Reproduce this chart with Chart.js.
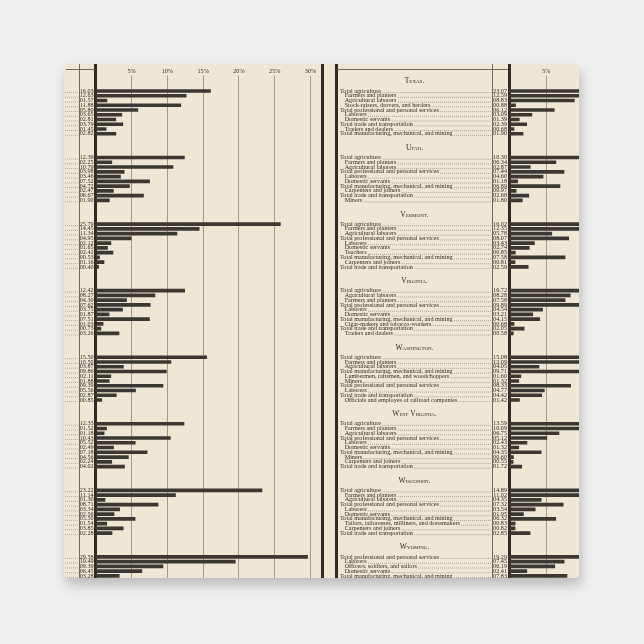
<!DOCTYPE html>
<html>
<head>
<meta charset="utf-8">
<script src="https://cdn.jsdelivr.net/npm/chart.js@4.4.0/dist/chart.umd.min.js"></script>
<style>
  html, body { margin: 0; padding: 0; background: #efefef; }
  body { width: 644px; height: 644px; position: relative; overflow: hidden; }
  #page {
    position: absolute; left: 64px; top: 64px; width: 515px; height: 514px;
    background: #efe7d5; border-radius: 4px; overflow: hidden;
    box-shadow: 2px 7px 12px rgba(0,0,0,0.22);
  }
  .rule { position: absolute; background: #2f2b26; }
  .thin { background: #6f685d; }
  canvas { position: absolute; top: 0; }
</style>
</head>
<body>
<div id="page">
  <div class="rule thin" style="left:15px;top:0;width:1px;height:514px"></div>
  <div class="rule" style="left:30px;top:0;width:3px;height:514px"></div>
  <div class="rule" style="left:257px;top:0;width:3px;height:514px"></div>
  <div class="rule" style="left:271px;top:0;width:2.5px;height:514px"></div>
  <div class="rule thin" style="left:428px;top:0;width:1px;height:514px"></div>
  <div class="rule" style="left:443.5px;top:0;width:3px;height:514px"></div>
  <div class="rule thin" style="left:2px;top:5px;width:29px;height:1px"></div>
  <div class="rule thin" style="left:273px;top:5px;width:171px;height:1px"></div>
  <canvas id="leftChart" width="262" height="520" style="left:0"></canvas>
  <canvas id="rightChart" width="260" height="520" style="left:276px"></canvas>
</div>
<script>
// tick labels of the two percentage scales
const leftTickLabels = ['5%', '10%', '15%', '20%', '25%', '30%'];
const rightTickLabels = ['5%'];

// bars continued from the facing page (values only, names are on that page)
const prevPage1 = [16.03, 12.63, 1.57, 11.88, 5.89, 3.65, 2.81, 3.79, 1.45, 2.82];
const prevPage2 = [12.39, 2.25, 10.79, 3.98, 3.46, 7.52, 4.72, 2.47, 6.67, 1.90];
const prevPage3 = [25.79, 14.45, 11.34, 4.95, 2.12, 1.65, 2.42, 0.53, 1.16, 0.40];
const prevPage4 = [12.42, 8.27, 4.30, 7.62, 3.75, 1.87, 7.51, 1.03, 0.73, 3.26];
const prevPage5 = [15.50, 10.50, 3.87, 9.86, 2.11, 1.88, 9.39, 5.56, 2.87, 0.85];
const prevPage6 = [12.33, 1.52, 1.18, 10.43, 5.52, 2.49, 7.18, 4.56, 2.24, 4.02];
const prevPage7 = [23.22, 11.14, 1.30, 8.71, 3.34, 2.56, 5.50, 1.54, 3.85, 2.28];
const prevPage8 = [29.58, 19.49, 9.39, 6.45, 3.28];

const stateNames = ['Texas.', 'Utah.', 'Vermont.', 'Virginia.', 'Washington.', 'West Virginia.', 'Wisconsin.', 'Wyoming.'];

const texasLabels = ['Total agriculture', 'Farmers and planters', 'Agricultural laborers', 'Stock-raisers, drovers, and herders',
  'Total professional and personal services', 'Laborers', 'Domestic servants', 'Total trade and transportation',
  'Traders and dealers', 'Total manufacturing, mechanical, and mining'];
const texasValues = [23.07, 12.59, 8.83, 0.88, 6.12, 3.09, 1.39, 2.39, 0.68, 1.90];

const utahLabels = ['Total agriculture', 'Farmers and planters', 'Agricultural laborers', 'Total professional and personal services',
  'Laborers', 'Domestic servants', 'Total manufacturing, mechanical, and mining', 'Carpenters and joiners',
  'Total trade and transportation', 'Miners'];
const utahValues = [10.30, 6.34, 2.87, 7.44, 4.60, 1.18, 6.89, 0.97, 2.68, 1.80];

const vermontLabels = ['Total agriculture', 'Farmers and planters', 'Agricultural laborers', 'Total professional and personal services',
  'Laborers', 'Domestic servants', 'Teachers', 'Total manufacturing, mechanical, and mining', 'Carpenters and joiners',
  'Total trade and transportation'];
const vermontValues = [16.02, 12.35, 5.78, 8.07, 3.43, 2.74, 0.85, 7.58, 0.81, 2.59];

const virginiaLabels = ['Total agriculture', 'Agricultural laborers', 'Farmers and planters', 'Total professional and personal services',
  'Laborers', 'Domestic servants', 'Total manufacturing, mechanical, and mining', 'Cigar-makers and tobacco-workers',
  'Total trade and transportation', 'Traders and dealers'];
const virginiaValues = [16.72, 8.28, 7.58, 9.89, 4.54, 3.21, 4.15, 0.68, 2.05, 0.58];

const washingtonLabels = ['Total agriculture', 'Farmers and planters', 'Agricultural laborers', 'Total manufacturing, mechanical, and mining',
  'Lumbermen, raftsmen, and woodchoppers', 'Miners', 'Total professional and personal services', 'Laborers',
  'Total trade and transportation', 'Officials and employes of railroad companies'];
const washingtonValues = [15.08, 12.09, 4.05, 9.71, 1.60, 1.32, 8.33, 4.77, 4.42, 1.42];

const westVirginiaLabels = ['Total agriculture', 'Farmers and planters', 'Agricultural laborers', 'Total professional and personal services',
  'Laborers', 'Domestic servants', 'Total manufacturing, mechanical, and mining', 'Miners', 'Carpenters and joiners',
  'Total trade and transportation'];
const westVirginiaValues = [13.59, 10.69, 6.75, 5.12, 2.43, 1.32, 4.35, 0.60, 0.55, 1.72];

const wisconsinLabels = ['Total agriculture', 'Farmers and planters', 'Agricultural laborers', 'Total professional and personal services',
  'Laborers', 'Domestic servants', 'Total manufacturing, mechanical, and mining',
  'Tailors, tailoresses, milliners, and dressmakers', 'Carpenters and joiners', 'Total trade and transportation'];
const wisconsinValues = [14.89, 11.02, 4.35, 7.32, 3.54, 1.95, 6.32, 0.83, 0.82, 2.85];

const wyomingLabels = ['Total professional and personal services', 'Laborers', 'Officers, soldiers, and sailors',
  'Domestic servants', 'Total manufacturing, mechanical, and mining'];
const wyomingValues = [19.29, 7.45, 6.19, 2.41, 7.83];

// ---- layout / style
const INK = '#2f2b26';
const BAR = '#3b3732';
const GRID = '#8f8779';
const SERIF = "'Liberation Serif', 'DejaVu Serif', serif";
const FONT_SIZE = 6.2;
const GAP = 4; // empty rows between two states

function fmt(v) { return (v < 10 ? '0' : '') + v.toFixed(2); }
function indent(t) { return t.startsWith('Total') ? t : '   ' + t; }

// lay the groups out on one row axis, with empty rows between them
function spread(groups, pick, blank) {
  const out = [];
  groups.forEach((g, gi) => {
    if (gi > 0) for (let k = 0; k < GAP; k++) out.push(blank);
    g.forEach(v => out.push(pick(v)));
  });
  return out;
}

const leftGroups = [prevPage1, prevPage2, prevPage3, prevPage4, prevPage5, prevPage6, prevPage7, prevPage8];
const rightValueGroups = [texasValues, utahValues, vermontValues, virginiaValues, washingtonValues, westVirginiaValues, wisconsinValues, wyomingValues];
const rightLabelGroups = [texasLabels, utahLabels, vermontLabels, virginiaLabels, washingtonLabels, westVirginiaLabels, wisconsinLabels, wyomingLabels];

const leftData = spread(leftGroups, v => v, null);
const leftTicks = spread(leftGroups, fmt, '');
const rightData = spread(rightValueGroups, v => v, null);
const rightValueTicks = spread(rightValueGroups, fmt, '');
const rightNameTicks = spread(rightLabelGroups, t => t, '');

const groupStarts = [];
rightLabelGroups.reduce((pos, g) => { groupStarts.push(pos); return pos + g.length + GAP; }, 0);

const tickFont = { family: SERIF, size: FONT_SIZE };

function gridWidth(c) { return (c.tick && c.tick.value === 0) ? 0 : 0.8; }

// dotted leaders at the left edge (running in from the facing page)
const leftLeaders = {
  id: 'leftLeaders',
  afterDraw(chart) {
    const ctx = chart.ctx, y = chart.scales.y;
    ctx.save();
    ctx.strokeStyle = '#6a6358';
    ctx.lineWidth = 0.6;
    ctx.setLineDash([0.8, 1.2]);
    leftData.forEach((v, i) => {
      if (v === null) return;
      const py = y.getPixelForValue(i) + 1.5;
      ctx.beginPath(); ctx.moveTo(1, py); ctx.lineTo(14, py); ctx.stroke();
    });
    ctx.restore();
  }
};

// leaders after each occupation name + the state headings
const rightText = {
  id: 'rightText',
  afterDraw(chart) {
    const ctx = chart.ctx, names = chart.scales.names;
    ctx.save();
    ctx.font = FONT_SIZE + 'px ' + SERIF;
    ctx.strokeStyle = '#5f594f';
    ctx.lineWidth = 0.6;
    ctx.setLineDash([0.8, 1.2]);
    rightNameTicks.forEach((t, i) => {
      if (!t) return;
      const py = names.getPixelForValue(i) + 1.6;
      const x0 = names.left + ctx.measureText(indent(t)).width + 1.5;
      ctx.beginPath(); ctx.moveTo(x0, py); ctx.lineTo(names.right - 1.5, py); ctx.stroke();
    });
    ctx.setLineDash([]);
    ctx.fillStyle = INK;
    ctx.textAlign = 'center';
    ctx.textBaseline = 'middle';
    ctx.font = '7.5px ' + SERIF;
    if ('fontVariantCaps' in ctx) ctx.fontVariantCaps = 'small-caps';
    stateNames.forEach((s, g) => {
      const py = names.getPixelForValue(groupStarts[g]) - 9.5;
      ctx.fillText(s, names.left + 74.5, py);
    });
    ctx.restore();
  }
};

new Chart(document.getElementById('leftChart'), {
  type: 'bar',
  data: {
    labels: leftTicks,
    datasets: [{ data: leftData, backgroundColor: BAR, barThickness: 3 }]
  },
  options: {
    indexAxis: 'y',
    responsive: false,
    animation: false,
    layout: { padding: { left: 0, right: 4, top: 0, bottom: 5.6 } },
    plugins: { legend: { display: false }, tooltip: { enabled: false } },
    scales: {
      x: {
        position: 'top', min: 0, max: 31.6,
        afterFit: s => { s.height = 24.6; },
        ticks: {
          stepSize: 5, includeBounds: false, maxRotation: 0, padding: 1,
          font: tickFont, color: INK,
          callback: v => leftTickLabels[v / 5 - 1] || ''
        },
        grid: { color: GRID, lineWidth: gridWidth, tickLength: 13 },
        border: { display: false }
      },
      y: {
        afterFit: s => { s.width = 31.7; },
        ticks: { autoSkip: false, padding: 2, font: tickFont, color: INK },
        grid: { display: false, drawTicks: false },
        border: { color: INK, width: 3 }
      }
    }
  },
  plugins: [leftLeaders]
});

new Chart(document.getElementById('rightChart'), {
  type: 'bar',
  data: {
    labels: rightValueTicks,
    datasets: [{ data: rightData, backgroundColor: BAR, barThickness: 3 }]
  },
  options: {
    indexAxis: 'y',
    responsive: false,
    animation: false,
    layout: { padding: { left: 0, right: 20.7, top: 0, bottom: 5.6 } },
    plugins: { legend: { display: false }, tooltip: { enabled: false } },
    scales: {
      x: {
        position: 'top', min: 0, max: 9.5,
        afterFit: s => { s.height = 24.6; },
        ticks: {
          stepSize: 5, includeBounds: false, maxRotation: 0, padding: 1,
          font: tickFont, color: INK,
          callback: v => rightTickLabels[v / 5 - 1] || ''
        },
        grid: { color: GRID, lineWidth: gridWidth, tickLength: 13 },
        border: { display: false }
      },
      names: {
        type: 'category', position: 'left', weight: 1, offset: true,
        labels: rightNameTicks,
        afterFit: s => { s.width = 152.5; },
        ticks: {
          autoSkip: false, crossAlign: 'far', padding: 0, font: tickFont, color: INK,
          callback: function (v) { const t = this.getLabelForValue(v); return t ? indent(t) : ''; }
        },
        grid: { display: false, drawTicks: false },
        border: { display: false }
      },
      y: {
        position: 'left', weight: 0,
        afterFit: s => { s.width = 16.5; },
        ticks: { autoSkip: false, padding: 2, font: tickFont, color: INK },
        grid: { display: false, drawTicks: false },
        border: { color: INK, width: 3 }
      }
    }
  },
  plugins: [rightText]
});
</script>
</body>
</html>
